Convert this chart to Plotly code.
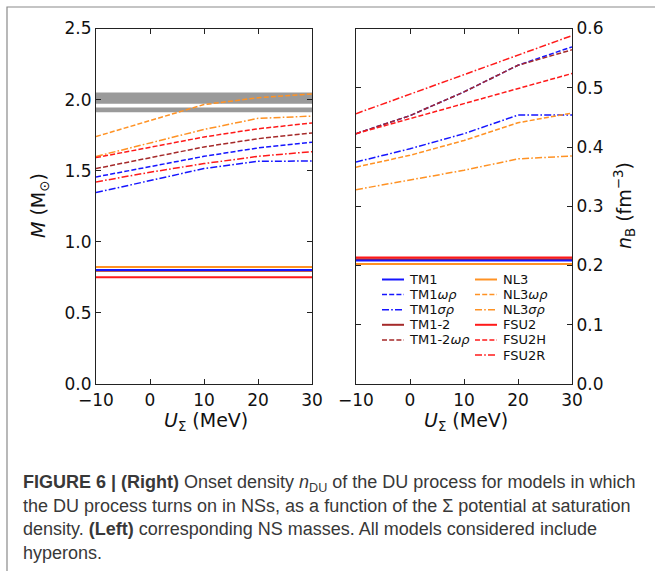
import plotly.graph_objects as go

# Sigma potential at saturation density (MeV)
u_sigma = [-10, 0, 10, 20, 30]

# NS masses at DU onset (M_sun), left panel
m_tm1 = [0.802, 0.802, 0.802, 0.802, 0.802]
m_tm1_wr = [1.456, 1.531, 1.601, 1.660, 1.700]
m_tm1_sr = [1.346, 1.433, 1.515, 1.566, 1.568]
m_tm12 = [0.797, 0.797, 0.797, 0.797, 0.797]
m_tm12_wr = [1.515, 1.592, 1.667, 1.725, 1.765]
m_nl3 = [0.822, 0.822, 0.822, 0.822, 0.822]
m_nl3_wr = [1.740, 1.850, 1.965, 2.013, 2.040]
m_nl3_sr = [1.600, 1.695, 1.790, 1.868, 1.884]
m_fsu2 = [0.751, 0.751, 0.751, 0.751, 0.751]
m_fsu2h = [1.592, 1.667, 1.737, 1.795, 1.835]
m_fsu2r = [1.421, 1.489, 1.550, 1.601, 1.634]

# DU onset baryon density (fm^-3), right panel
n_tm1 = [0.2085, 0.2085, 0.2085, 0.2085, 0.2085]
n_tm1_wr = [0.4225, 0.453, 0.493, 0.538, 0.569]
n_tm1_sr = [0.3747, 0.397, 0.4225, 0.4539, 0.454]
n_tm12 = [0.2105, 0.2105, 0.2105, 0.2105, 0.2105]
n_tm12_wr = [0.4225, 0.453, 0.493, 0.538, 0.564]
n_nl3 = [0.2025, 0.2025, 0.2025, 0.2025, 0.2025]
n_nl3_wr = [0.366, 0.386, 0.411, 0.441, 0.4573]
n_nl3_sr = [0.328, 0.344, 0.3607, 0.380, 0.3848]
n_fsu2 = [0.2135, 0.2135, 0.2135, 0.2135, 0.2135]
n_fsu2h = [0.4225, 0.448, 0.473, 0.498, 0.524]
n_fsu2r = [0.4562, 0.489, 0.522, 0.555, 0.588]

# Observational mass constraints (M_sun)
mass_bands = [(1.97, 2.05), (1.911, 1.945)]

x_ticks = [-10, 0, 10, 20, 30]
m_ticks = [0.0, 0.5, 1.0, 1.5, 2.0, 2.5]
n_ticks = [0.0, 0.1, 0.2, 0.3, 0.4, 0.5, 0.6]

BLUE = "#1515ff"
BROWN = "#a52a2a"
ORANGE = "#ff9224"
RED = "#ff1a1a"
DASH = "5px,2.2px"
DASHDOT = "7px,2.2px,1.6px,2.2px"

# name, color, dash, mass series, density series, legend column
models = [
    ("TM1", BLUE, "solid", m_tm1, n_tm1, 0),
    ("TM1<i>ωρ</i>", BLUE, DASH, m_tm1_wr, n_tm1_wr, 0),
    ("TM1<i>σρ</i>", BLUE, DASHDOT, m_tm1_sr, n_tm1_sr, 0),
    ("TM1-2", BROWN, "solid", m_tm12, n_tm12, 0),
    ("TM1-2<i>ωρ</i>", BROWN, DASH, m_tm12_wr, n_tm12_wr, 0),
    ("NL3", ORANGE, "solid", m_nl3, n_nl3, 1),
    ("NL3<i>ωρ</i>", ORANGE, DASH, m_nl3_wr, n_nl3_wr, 1),
    ("NL3<i>σρ</i>", ORANGE, DASHDOT, m_nl3_sr, n_nl3_sr, 1),
    ("FSU2", RED, "solid", m_fsu2, n_fsu2, 1),
    ("FSU2H", RED, DASH, m_fsu2h, n_fsu2h, 1),
    ("FSU2R", RED, DASHDOT, m_fsu2r, n_fsu2r, 1),
]

W, H = 655, 571
def px(x):
    return x / W
def py(y):
    return 1 - y / H

fig = go.Figure()

for y0, y1 in mass_bands:
    fig.add_shape(type="rect", xref="x domain", yref="y", x0=0, x1=1, y0=y0, y1=y1,
                  fillcolor="#9a9a9a", line_width=0, layer="below")

# TM1-2 solid drawn beneath TM1 solid
draw_order = [3, 0, 1, 2, 4, 5, 6, 7, 8, 9, 10]
for k in draw_order:
    name, color, dash, mser, nser, col = models[k]
    lw = 2 if dash == "solid" else 1.5
    fig.add_trace(go.Scatter(x=u_sigma, y=mser, mode="lines", name=name, showlegend=False,
                             line=dict(color=color, dash=dash, width=lw),
                             xaxis="x", yaxis="y"))
    fig.add_trace(go.Scatter(x=u_sigma, y=nser, mode="lines", name=name, showlegend=False,
                             line=dict(color=color, dash=dash, width=lw),
                             xaxis="x2", yaxis="y2"))

# two-column legend inside the right panel
leg_x = [(382, 404, 407), (475, 497, 501)]
row_y0, row_dy = 279.5, 15.1
rows = [0, 0]
for name, color, dash, mser, nser, col in models:
    x0, x1, xt = leg_x[col]
    yy = row_y0 + row_dy * rows[col]
    rows[col] += 1
    fig.add_shape(type="line", xref="paper", yref="paper", x0=px(x0), x1=px(x1),
                  y0=py(yy), y1=py(yy),
                  line=dict(color=color, dash=dash, width=2 if dash == "solid" else 1.5))
    fig.add_annotation(text=name, xref="paper", yref="paper", x=px(xt), y=py(yy),
                       xanchor="left", yanchor="middle", showarrow=False,
                       font=dict(family="DejaVu Sans", size=13, color="#111"))

tick_font = dict(family="DejaVu Sans", size=17, color="#111")
ax_common = dict(showline=True, linecolor="#222", linewidth=1.2, mirror="ticks",
                 ticks="inside", ticklen=5, tickwidth=1.2, tickcolor="#222",
                 showgrid=False, zeroline=False, tickfont=tick_font, automargin=False)

fig.update_layout(
    width=W, height=H, margin=dict(l=0, r=0, t=0, b=0, autoexpand=False),
    paper_bgcolor="white", plot_bgcolor="white", showlegend=False,
    xaxis=dict(domain=[px(96), px(312)], range=[-10, 30], tickvals=x_ticks,
               anchor="y", **ax_common),
    yaxis=dict(domain=[py(384), py(28.5)], range=[0, 2.5], tickvals=m_ticks,
               tickformat=".1f", anchor="x", **ax_common),
    xaxis2=dict(domain=[px(356), px(572)], range=[-10, 30], tickvals=x_ticks,
                anchor="y2", **ax_common),
    yaxis2=dict(domain=[py(384), py(28.5)], range=[0, 0.6], tickvals=n_ticks,
                tickformat=".1f", anchor="x2", side="right", **ax_common),
)

title_font = dict(family="DejaVu Sans", size=19, color="#111")
fig.add_annotation(text="<i>M</i> (M<sub>⊙</sub>)", xref="paper", yref="paper",
                   x=px(40), y=py(206), xanchor="center", yanchor="middle",
                   textangle=-90, showarrow=False, font=title_font)
fig.add_annotation(text="<i>n</i><sub>B</sub> (fm<sup>−3</sup>)", xref="paper", yref="paper",
                   x=px(625), y=py(206), xanchor="center", yanchor="middle",
                   textangle=-90, showarrow=False, font=title_font)
for cx in (206, 466):
    fig.add_annotation(text="<i>U</i><sub>Σ</sub> (MeV)", xref="paper", yref="paper",
                       x=px(cx), y=py(421), xanchor="center", yanchor="middle",
                       showarrow=False, font=title_font)

# caption
cap_font = dict(family="Liberation Sans", size=18, color="#383838")
caption = [
    "<b>FIGURE 6 | (Right)</b> Onset density <i>n</i><sub>DU</sub> of the DU process for models in which",
    "the DU process turns on in NSs, as a function of the Σ potential at saturation",
    "density. <b>(Left)</b> corresponding NS masses. All models considered include",
    "hyperons.",
]
for i, line in enumerate(caption):
    fig.add_annotation(text=line, xref="paper", yref="paper", x=px(21), y=py(483 + 23.2 * i),
                       xanchor="left", yanchor="middle", showarrow=False, font=cap_font)

# page frame: top and left edges of the figure box
fig.add_shape(type="path", xref="paper", yref="paper",
              path=f"M {px(7)},{py(575)} L {px(7)},{py(7)} L {px(700)},{py(7)}",
              line=dict(color="#8a8a8a", width=1.2))

fig.write_html("out.html")
